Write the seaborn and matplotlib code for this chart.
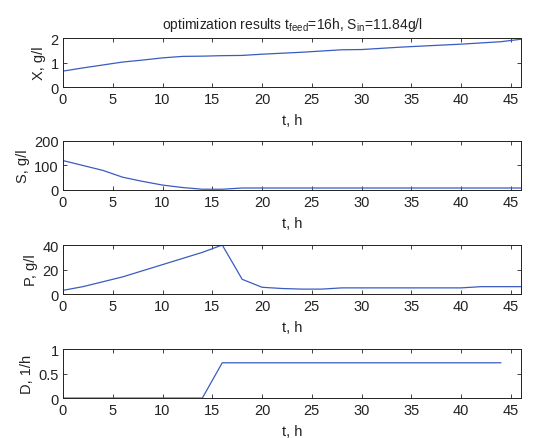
import numpy as np
import pandas as pd
import matplotlib
matplotlib.use("Agg")
import matplotlib.pyplot as plt
import seaborn as sns

# time grid, h
t = [0, 2, 4, 6, 8, 10, 12, 14, 16, 18, 20, 22, 24, 26, 28, 30, 32, 34, 36, 38, 40, 42, 44, 46]
# biomass X, g/l
x_vals = [0.65, 0.78, 0.90, 1.02, 1.10, 1.19, 1.25, 1.26, 1.28, 1.29, 1.34, 1.38, 1.42, 1.47, 1.52, 1.53, 1.58, 1.63, 1.67, 1.71, 1.75, 1.80, 1.85, 1.95]
# substrate S, g/l
s_vals = [120, 100, 80, 52, 35, 20, 10, 3, 3, 8, 8, 8, 8, 8, 8, 8, 8, 8, 8, 8, 8, 8, 8, 8]
# product P, g/l
p_vals = [3, 6, 10, 14, 19, 24, 29, 34, 40, 12, 5.5, 4.5, 4, 4, 5, 5, 5, 5, 5, 5, 5, 6, 6, 6]
# dilution rate D, 1/h
t_d = [0, 2, 4, 6, 8, 10, 12, 14, 16, 18, 20, 22, 24, 26, 28, 30, 32, 34, 36, 38, 40, 42, 44]
d_vals = [0, 0, 0, 0, 0, 0, 0, 0, 0.72, 0.72, 0.72, 0.72, 0.72, 0.72, 0.72, 0.72, 0.72, 0.72, 0.72, 0.72, 0.72, 0.72, 0.72]

sns.set_style("ticks")
plt.rcParams['font.family'] = ['Liberation Sans', 'DejaVu Sans']
plt.rcParams['mathtext.fontset'] = 'custom'
plt.rcParams['mathtext.rm'] = 'Liberation Sans'
plt.rcParams['mathtext.it'] = 'Liberation Sans'

fs = 10.5
line_color = '#3a5cc0'

panels = [
    (t, x_vals, "X, g/l", (0, 2), [0, 1, 2]),
    (t, s_vals, "S, g/l", (0, 200), [0, 100, 200]),
    (t, p_vals, "P, g/l", (0, 40), [0, 20, 40]),
    (t_d, d_vals, "D, 1/h", (0, 1), [0, 0.5, 1]),
]
bottoms = [0.7995, 0.565, 0.328, 0.091]

fig = plt.figure(figsize=(5.55, 4.39), dpi=100)
for (tt, vals, lab, ylim, yt), b in zip(panels, bottoms):
    ax = fig.add_axes([0.1135, b, 0.825, 0.1116])
    df = pd.DataFrame({"t": tt, "v": vals})
    sns.lineplot(data=df, x="t", y="v", ax=ax, color=line_color, linewidth=0.9)
    ax.set_xlim(0, 46)
    ax.set_ylim(*ylim)
    ax.set_xticks(range(0, 46, 5))
    ax.set_yticks(yt)
    ax.set_yticklabels([f"{v:g}" for v in yt])
    ax.set_xlabel("t, h", fontsize=fs, labelpad=5, color='#222222')
    ax.set_ylabel(lab, fontsize=fs, labelpad=3, color='#222222')
    ax.tick_params(direction='in', top=True, right=True, length=3, width=0.6,
                   labelsize=fs, pad=3.5, colors='#222222')
    ax.tick_params(axis='y', pad=3)
    for sp in ax.spines.values():
        sp.set_linewidth(0.7)
        sp.set_color('#222222')
    if b == bottoms[0]:
        ax.set_title(r"optimization results t$_{\mathrm{feed}}$=16h, S$_{\mathrm{in}}$=11.84g/l",
                     fontsize=10, pad=7, color='#222222')

fig.savefig("out.png", dpi=100)
